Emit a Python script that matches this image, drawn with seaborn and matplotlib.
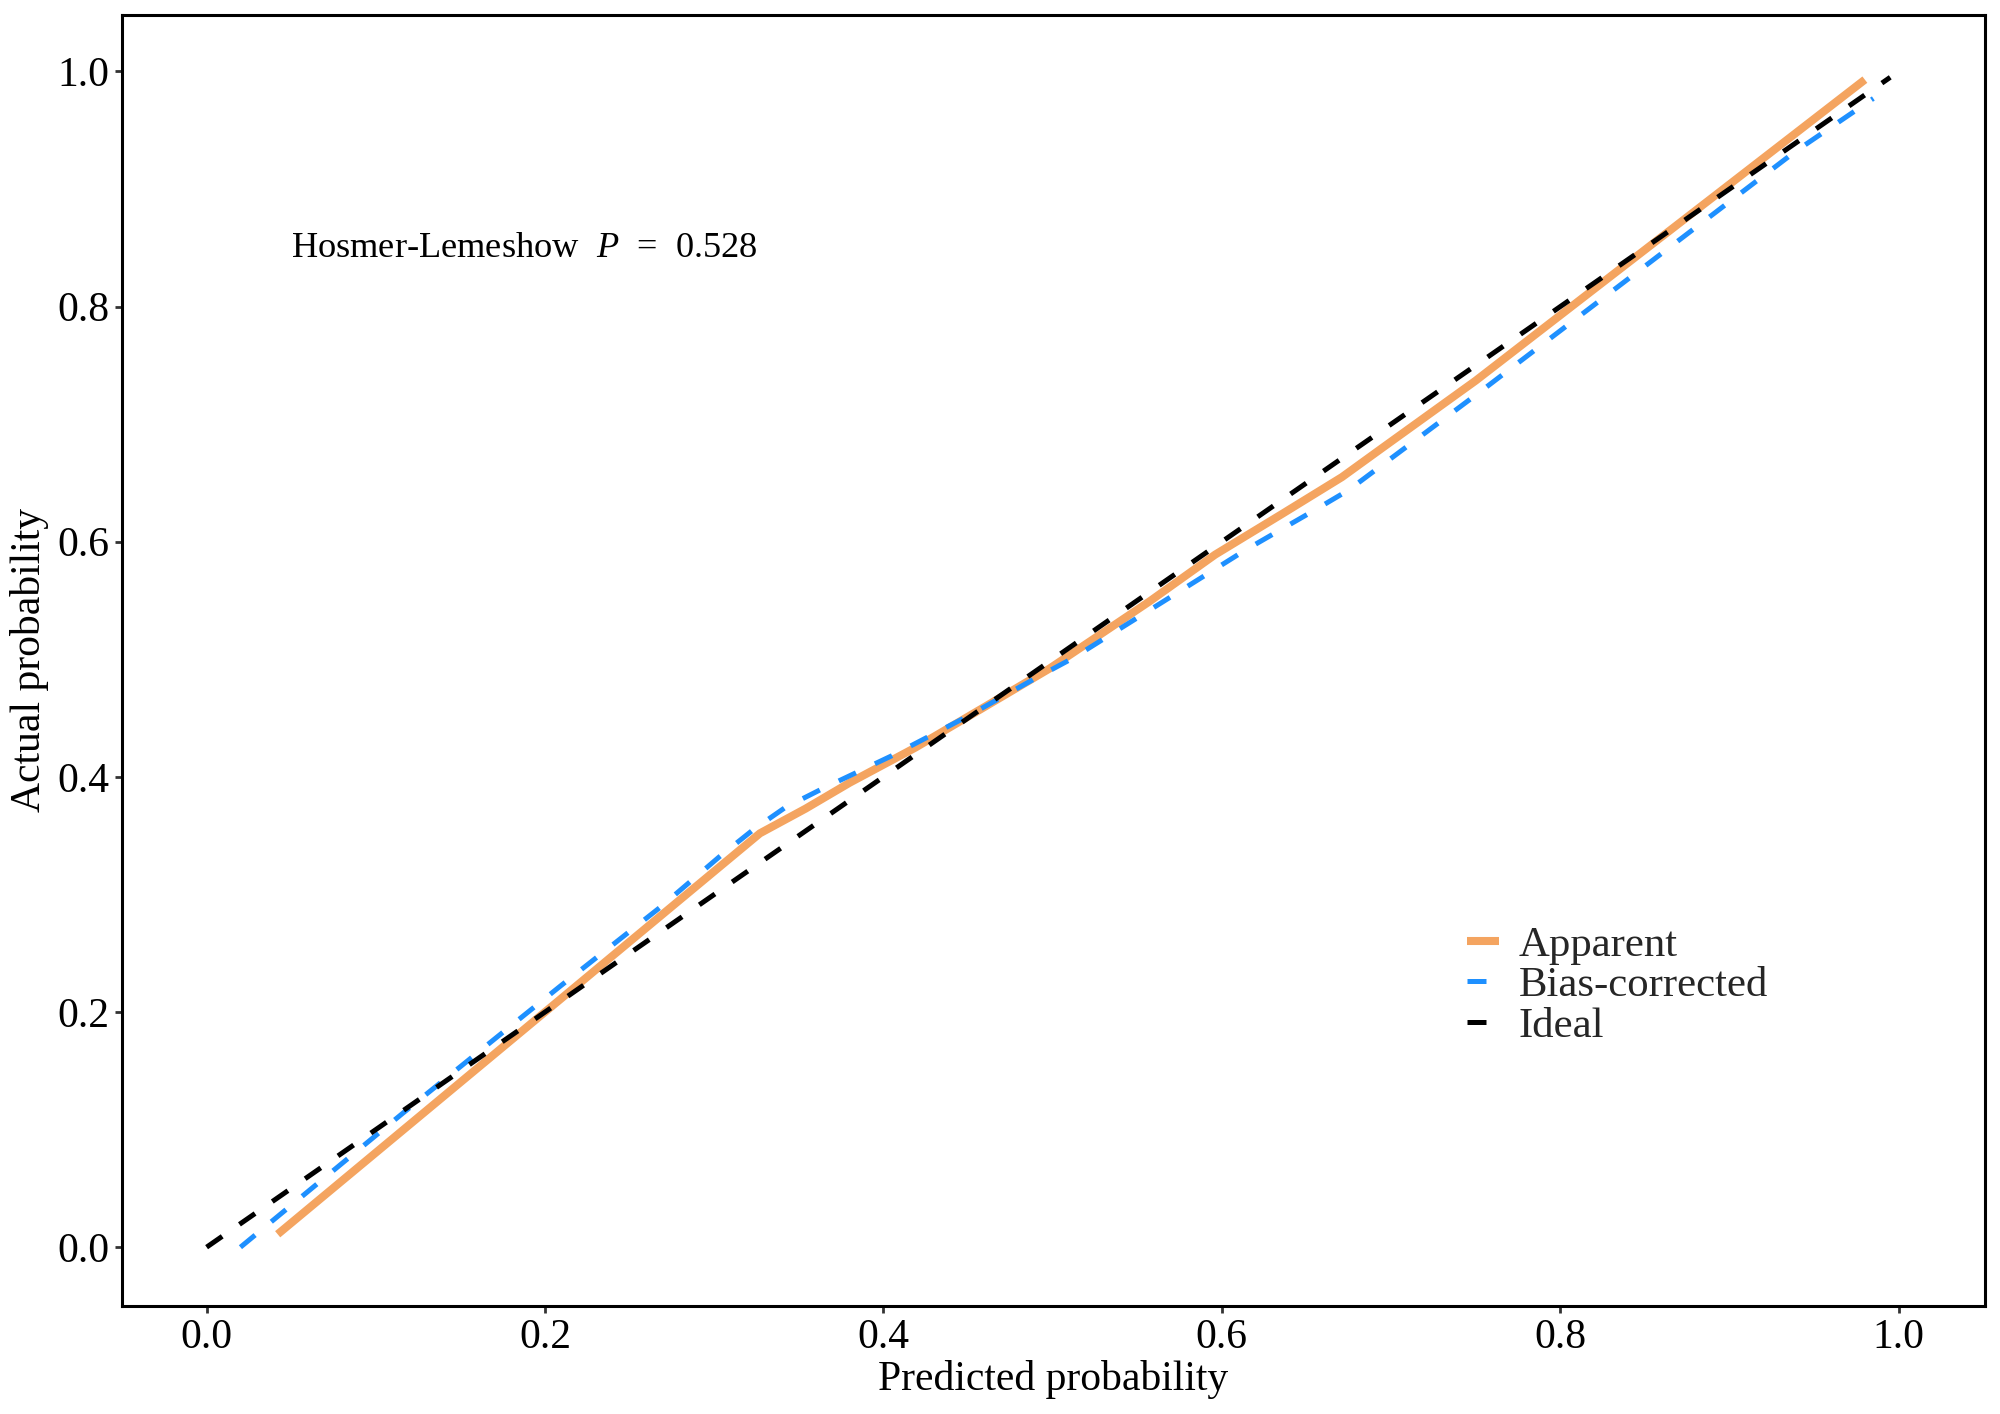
import numpy as np
import pandas as pd
import matplotlib
matplotlib.use("Agg")
import matplotlib.pyplot as plt
import seaborn as sns

# calibration curves
apparent_x = [0.042, 0.327, 0.354, 0.380, 0.419, 0.458, 0.498, 0.557, 0.596,
              0.636, 0.671, 0.695, 0.750, 0.927, 0.980]
apparent_y = [0.011, 0.352, 0.373, 0.395, 0.425, 0.458, 0.492, 0.549, 0.589,
              0.624, 0.655, 0.680, 0.737, 0.934, 0.993]

bias_x = [0.020, 0.116, 0.171, 0.209, 0.268, 0.303, 0.323, 0.342, 0.364, 0.405,
          0.449, 0.490, 0.512, 0.573, 0.614, 0.655, 0.675, 0.754, 0.939, 0.985]
bias_y = [0.000, 0.114, 0.178, 0.222, 0.289, 0.332, 0.355, 0.374, 0.390, 0.418,
          0.451, 0.484, 0.501, 0.556, 0.593, 0.627, 0.644, 0.729, 0.932, 0.977]

ideal_x = [0.0, 0.995]
ideal_y = [0.0, 0.995]

ticks = [0.0, 0.2, 0.4, 0.6, 0.8, 1.0]
hl_text = r"Hosmer-Lemeshow  $\mathit{P}$  =  0.528"

sns.set_theme(style="white")
plt.rcParams["font.family"] = ["Liberation Serif", "DejaVu Serif"]
plt.rcParams["mathtext.fontset"] = "custom"
plt.rcParams["mathtext.rm"] = "Liberation Serif"
plt.rcParams["mathtext.it"] = "Liberation Serif:italic"

fig = plt.figure(figsize=(10, 7.07), dpi=200)
ax = fig.add_axes([0.061, 0.0764, 0.9315, 0.913])

df_app = pd.DataFrame({"x": apparent_x, "y": apparent_y})
df_bias = pd.DataFrame({"x": bias_x, "y": bias_y})
df_ideal = pd.DataFrame({"x": ideal_x, "y": ideal_y})

sns.lineplot(data=df_app, x="x", y="y", ax=ax, color="#F4A460", linewidth=2.9,
             estimator=None, sort=False, label="Apparent", solid_capstyle="butt")
sns.lineplot(data=df_bias, x="x", y="y", ax=ax, color="#1E90FF", linewidth=1.8,
             estimator=None, sort=False, label="Bias-corrected",
             linestyle=(0, (3.8, 4.2)), dash_capstyle="butt")
sns.lineplot(data=df_ideal, x="x", y="y", ax=ax, color="black", linewidth=1.8,
             estimator=None, sort=False, label="Ideal",
             linestyle=(0, (3.8, 4.2)), dash_capstyle="butt")

ax.set_xlim(-0.05, 1.051)
ax.set_ylim(-0.05, 1.048)
ax.set_xticks(ticks)
ax.set_yticks(ticks)
ax.set_xticklabels([f"{t:.1f}" for t in ticks])
ax.set_yticklabels([f"{t:.1f}" for t in ticks])
ax.tick_params(axis="both", labelsize=15, length=2.5, width=1, color="#333333",
               labelcolor="black", pad=2, direction="out", bottom=True, left=True)

for s in ax.spines.values():
    s.set_color("black")
    s.set_linewidth(1.1)

ax.set_xlabel("Predicted probability", fontsize=15, color="black", labelpad=1)
ax.set_ylabel("Actual probability", fontsize=15, color="black", labelpad=3)

ax.text(0.0496, 0.849, hl_text, fontsize=13.1, ha="left", va="center", color="black")

ax.legend(loc="center left", bbox_to_anchor=(0.722, 0.248), frameon=False,
          fontsize=15.4, handlelength=0.75, handletextpad=0.45, labelspacing=0.04,
          borderpad=0, borderaxespad=0)

fig.savefig("out.png", dpi=200)
